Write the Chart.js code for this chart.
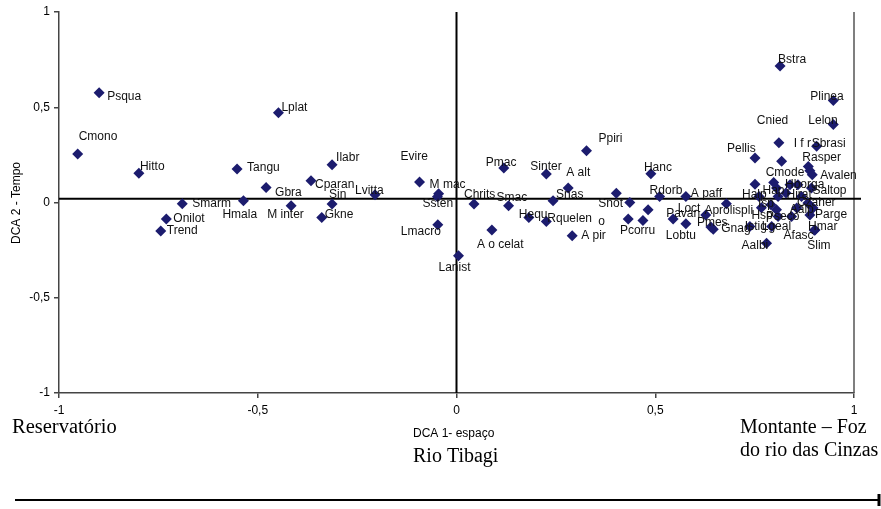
<!DOCTYPE html>
<html>
<head>
<meta charset="utf-8">
<script src="https://cdn.jsdelivr.net/npm/chart.js@4/dist/chart.umd.min.js"></script>
<style>
html,body{margin:0;padding:0;background:#fff;}
#wrap{width:881px;height:509px;position:relative;}
</style>
</head>
<body>
<div id="wrap"><canvas id="c" width="881" height="509"></canvas></div>
<script>
// ---- Data (DCA axis scores) ----
const species = ['Psqua','Cmono','Hitto','Smarm','Onilot','Trend','Tangu','Hmala','Gbra','M inter',
 'Lplat','Ilabr','Cparan','Sin','Gkne','Lvitta','Evire','M mac','Ssten','Lmacro',
 'Lanist','Chrits','Smac','Pmac','A o celat','Hequ','Rquelen','Sinter','A alt','Snas',
 'A pir','Ppiri','Snot','','','Pcorru','','Hanc','Rdorb','A paff',
 'Pavan','Lobtu','Loct','Aprolispli','Gnag','Pmes','Bstra','Plinea','Lelon','Cnied',
 'Sbrasi','I f r','Pellis','Rasper','','Avalen','Cmode','Halp','Hap','Hborga',
 '','Saltop','Isp','','Hirat','Czaher','Hsp','','Aalp','Parge',
 'Pseco','Afasc','','Istig','Lgeal','Hmar','Slim','Aalbi','',''];
const dca1 = [-0.899,-0.953,-0.799,-0.690,-0.730,-0.744,-0.552,-0.536,-0.479,-0.416,
 -0.448,-0.313,-0.366,-0.313,-0.339,-0.205,-0.093,-0.045,-0.048,-0.047,
 0.005,0.044,0.131,0.119,0.089,0.182,0.226,0.226,0.281,0.243,
 0.291,0.327,0.402,0.436,0.432,0.469,0.482,0.489,0.511,0.577,
 0.545,0.577,0.627,0.679,0.646,0.640,0.814,0.948,0.948,0.811,
 0.906,0.818,0.751,0.885,0.889,0.895,0.798,0.751,0.805,0.839,
 0.859,0.893,0.761,0.809,0.868,0.884,0.767,0.805,0.856,0.897,
 0.809,0.843,0.889,0.738,0.793,0.902,0.900,0.780,0.829,0.791];
const dca2 = [0.576,0.255,0.153,-0.007,-0.087,-0.149,0.176,0.009,0.079,-0.017,
 0.471,0.198,0.114,-0.008,-0.079,0.041,0.107,0.046,0.030,-0.117,
 -0.279,-0.008,-0.017,0.181,-0.144,-0.079,-0.100,0.149,0.076,0.009,
 -0.175,0.272,0.049,0.000,-0.087,-0.095,-0.038,0.151,0.032,0.032,
 -0.087,-0.112,-0.065,-0.007,-0.140,-0.128,0.716,0.535,0.409,0.313,
 0.295,0.216,0.234,0.189,0.167,0.146,0.105,0.096,0.076,0.093,
 0.093,0.076,0.032,0.032,0.032,-0.002,-0.028,-0.038,-0.029,-0.029,
 -0.074,-0.074,-0.065,-0.126,-0.126,-0.144,-0.146,-0.214,0.050,-0.012];
const xTicks = [-1,-0.5,0,0.5,1];
const yTicks = [-1,-0.5,0,0.5,1];
const crossY = 0.02; // level of the horizontal reference line

// label placement (offset of the text relative to its marker, px)
const labelShift = [[8,4],[1,-17],[1,-7],[10,0],[7,0],[6,0],[10,-1],[-21,14],[9,5],[-24,9],
 [3,-5],[4,-7],[4,4],[-3,-9],[3,-3],[-20,-4],[-19,-25],[-9,-9],[-15,7],[-37,7],
 [-20,12],[-10,-9],[-12,-8],[-18,-5],[-15,15],[-10,-3],[1,-3],[-16,-7],[-2,-15],[3,-6],
 [9,0],[12,-12],[-18,11],[0,0],[0,0],[-23,10],[0,0],[-7,-6],[-10,-6],[5,-3],
 [-7,-5],[-20,12],[-28,-6],[-22,7],[8,0],[-14,-4],[-2,-6],[-23,-4],[-25,-4],[-22,-22],
 [-5,-3],[12,-18],[-28,-9],[-6,-9],[0,0],[8,1],[-8,-10],[-13,10],[-14,3],[-5,0],
 [0,0],[1,3],[-1,7],[0,0],[-15,-2],[-11,0],[-10,8],[0,0],[-7,2],[2,7],
 [-12,0],[-8,19],[0,0],[-5,0],[-10,0],[-7,-3],[-7,15],[-25,2],[0,0],[0,0]];

const points = dca1.map((x,i)=>({x:x, y:dca2[i]}));
const fmt = v => String(v).replace('.', ',');

const decor = {
  id:'decor',
  beforeDatasetsDraw(chart){
    const {ctx, chartArea:a, scales:{x,y}} = chart;
    ctx.save();
    ctx.strokeStyle='#555'; ctx.lineWidth=1.5;
    ctx.beginPath(); ctx.moveTo(a.right, a.top); ctx.lineTo(a.right, a.bottom); ctx.stroke();
    ctx.strokeStyle='#000'; ctx.lineWidth=2;
    const x0 = x.getPixelForValue(0), y0 = y.getPixelForValue(crossY);
    ctx.beginPath(); ctx.moveTo(x0, a.top); ctx.lineTo(x0, a.bottom); ctx.stroke();
    ctx.beginPath(); ctx.moveTo(a.left, y0); ctx.lineTo(a.right+7, y0); ctx.stroke();
    ctx.restore();
  },
  afterDatasetsDraw(chart){
    const {ctx} = chart;
    const meta = chart.getDatasetMeta(0);
    ctx.save();
    ctx.font = '12px "Liberation Sans", Arial, sans-serif';
    ctx.fillStyle = '#111';
    ctx.textBaseline = 'middle';
    ctx.textAlign = 'left';
    meta.data.forEach((el,i)=>{
      const name = species[i];
      if(!name) return;
      const [dx,dy] = labelShift[i];
      const lines = name === 'Snot' ? ['Snot','o'] : [name];
      lines.forEach((t,k)=> ctx.fillText(t, el.x+dx, el.y+dy+k*18));
    });
    ctx.restore();
  },
  afterDraw(chart){
    const {ctx} = chart;
    ctx.save();
    ctx.fillStyle='#000';
    ctx.textBaseline='alphabetic';
    ctx.textAlign='left';
    ctx.font = '20.5px "Liberation Serif", "Times New Roman", serif';
    ctx.fillText('Reservatório', 12, 433);
    ctx.font = '20px "Liberation Serif", "Times New Roman", serif';
    ctx.fillText('Rio Tibagi', 413, 462);
    ctx.fillText('Montante – Foz', 740, 433);
    ctx.fillText('do rio das Cinzas', 740, 456);
    ctx.font = '12px "Liberation Sans", Arial, sans-serif';
    ctx.fillText('DCA 1- espaço', 413, 437);
    ctx.save();
    ctx.translate(17, 203);
    ctx.rotate(-Math.PI/2);
    ctx.textAlign='center';
    ctx.textBaseline='middle';
    ctx.fillText('DCA 2 - Tempo', 0, 0);
    ctx.restore();
    ctx.strokeStyle='#000'; ctx.lineWidth=2;
    ctx.beginPath(); ctx.moveTo(15, 500); ctx.lineTo(878, 500); ctx.stroke();
    ctx.lineWidth=3;
    ctx.beginPath(); ctx.moveTo(879, 494); ctx.lineTo(879, 506); ctx.stroke();
    ctx.restore();
  }
};

new Chart(document.getElementById('c'), {
  type:'scatter',
  data:{ datasets:[{
    data: points,
    pointStyle:'rectRot',
    pointRadius:5.5,
    pointHoverRadius:5.5,
    backgroundColor:'#1c1c6e',
    borderColor:'#1c1c6e',
    borderWidth:0
  }]},
  options:{
    responsive:false,
    animation:false,
    devicePixelRatio:1,
    layout:{ padding:{ top:12, right:27, bottom:0, left:0 } },
    plugins:{ legend:{display:false}, tooltip:{enabled:false} },
    scales:{
      x:{
        type:'linear', min:-1, max:1,
        afterBuildTicks: s => { s.ticks = xTicks.map(v=>({value:v})); },
        afterFit: s => { s.height = 116; },
        grid:{ drawOnChartArea:false, drawTicks:true, tickLength:5, color:'#444', lineWidth:1.5 },
        border:{ display:true, color:'#444', width:1.5 },
        ticks:{ callback: fmt, padding:5, color:'#000', maxRotation:0,
                font:{ family:'"Liberation Sans", Arial, sans-serif', size:12 } }
      },
      y:{
        type:'linear', min:-1, max:1,
        afterBuildTicks: s => { s.ticks = yTicks.map(v=>({value:v})); },
        afterFit: s => { s.width = 59; },
        grid:{ drawOnChartArea:false, drawTicks:true, tickLength:5, color:'#444', lineWidth:1.5 },
        border:{ display:true, color:'#444', width:1.5 },
        ticks:{ callback: fmt, padding:4, color:'#000',
                font:{ family:'"Liberation Sans", Arial, sans-serif', size:12 } }
      }
    }
  },
  plugins:[decor]
});
</script>
</body>
</html>
